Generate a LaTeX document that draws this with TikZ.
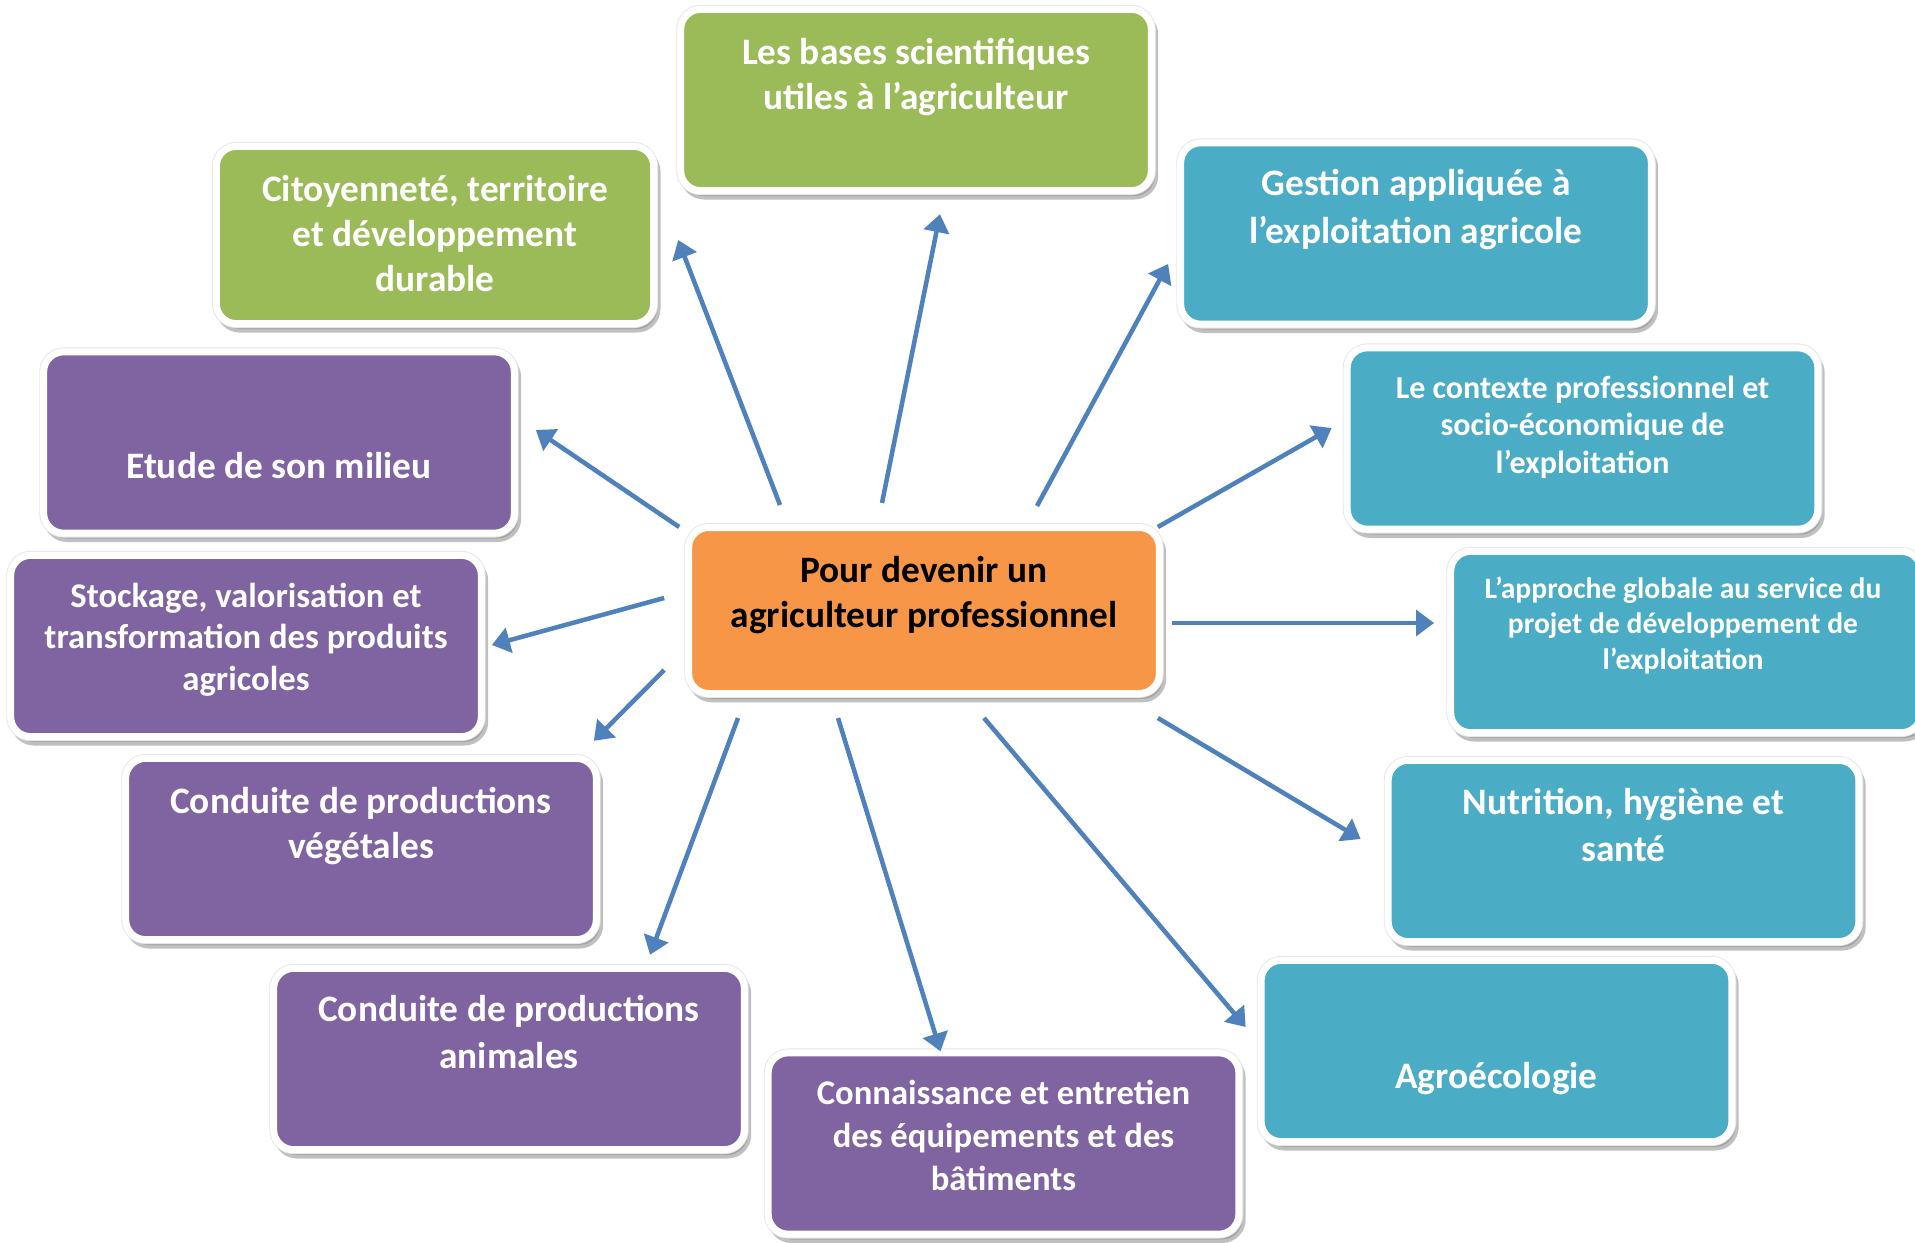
\documentclass[tikz,border=0pt]{standalone}
\usepackage{fontspec}
\setmainfont{Carlito}
\usepackage{tikz}
\usetikzlibrary{calc,shadows,arrows.meta}

\definecolor{cvert}{HTML}{9BBB59}
\definecolor{cbleu}{HTML}{4BACC6}
\definecolor{cviolet}{HTML}{8064A2}
\definecolor{corange}{HTML}{F79646}
\definecolor{cfleche}{HTML}{4F81BD}

\begin{document}
\begin{tikzpicture}[x=0.75pt,y=0.75pt,yscale=-1,xscale=1,
  panel/.style={rectangle, rounded corners=15pt, draw=white, line width=5.25pt, fill=#1,
    minimum width=353pt, minimum height=136pt, inner sep=0pt,
    drop shadow={shadow xshift=2.5pt, shadow yshift=-4pt, fill=black!45, draw=black!45,
      line width=5.25pt, opacity=0.55},
    preaction={draw=black!10, line width=6.6pt}},
  ptext/.style={anchor=north, align=center, inner sep=0pt, text=white,
    font=\bfseries\fontsize{28}{34}\selectfont},
  link/.style={draw=cfleche, line width=3.4pt, -{Triangle[length=13.5pt,width=19pt]}}
]
%uncomment if require: \path (0,1242); %set diagram left start at 0, and has height of 1242
\useasboundingbox (0,0) rectangle (1915,1242);

%Shape: Rounded Rectangle [bases]
\node[panel=cvert] (bases) at (916,100) {};
%Shape: Rounded Rectangle [citoyen]
\node[panel=cvert, minimum width=328pt, minimum height=133pt] (citoyen) at (435,235) {};
%Shape: Rounded Rectangle [gestion]
\node[panel=cbleu] (gestion) at (1416,233.5) {};
%Shape: Rounded Rectangle [etude]
\node[panel=cviolet] (etude) at (279,442.5) {};
%Shape: Rounded Rectangle [contexte]
\node[panel=cbleu] (contexte) at (1582.5,438.5) {};
%Shape: Rounded Rectangle [centre]
\node[panel=corange, minimum height=124.5pt] (centre) at (924,610.5) {};
%Shape: Rounded Rectangle [stockage]
\node[panel=cviolet] (stockage) at (246,646) {};
%Shape: Rounded Rectangle [approche]
\node[panel=cbleu] (approche) at (1686,642) {};
%Shape: Rounded Rectangle [vegetales]
\node[panel=cviolet] (vegetales) at (361,849) {};
%Shape: Rounded Rectangle [nutrition]
\node[panel=cbleu] (nutrition) at (1623.5,851) {};
%Shape: Rounded Rectangle [animales]
\node[panel=cviolet] (animales) at (509,1059) {};
%Shape: Rounded Rectangle [materiel]
\node[panel=cviolet] (materiel) at (1003.5,1143.5) {};
%Shape: Rounded Rectangle [agro]
\node[panel=cbleu] (agro) at (1496.5,1051) {};

% Text Node
\node[ptext] (bases txt) at ($(bases.north)+(0,32)$) {Les bases scientifiques\\utiles à l’agriculteur};
% Text Node
\node[ptext] (citoyen txt) at ($(citoyen.north)+(0,32)$) {Citoyenneté, territoire\\et développement\\durable};
% Text Node
\node[ptext, font=\bfseries\fontsize{28}{35.7}\selectfont] (gestion txt) at ($(gestion.north)+(0,30)$) {Gestion appliquée à\\l’exploitation agricole};
% Text Node
\node[ptext] (etude txt) at ($(etude.north)+(0,104)$) {Etude de son milieu};
% Text Node
\node[ptext, font=\bfseries\fontsize{24}{28.4}\selectfont] (contexte txt) at ($(contexte.north)+(0,31)$) {Le contexte professionnel et\\socio-économique de\\l’exploitation};
% Text Node
\node[ptext, text=black] (centre txt) at ($(centre.north)+(0,32)$) {Pour devenir un\\agriculteur professionnel};
% Text Node
\node[ptext, font=\bfseries\fontsize{26}{31}\selectfont] (stockage txt) at ($(stockage.north)+(0,31)$) {Stockage, valorisation et\\transformation des produits\\agricoles};
% Text Node
\node[ptext, font=\bfseries\fontsize{22.2}{26.5}\selectfont] (approche txt) at ($(approche.north)+(-3,29)$) {L’approche globale au service du\\projet de développement de\\l’exploitation};
% Text Node
\node[ptext] (vegetales txt) at ($(vegetales.north)+(0,32)$) {Conduite de productions\\végétales};
% Text Node
\node[ptext, font=\bfseries\fontsize{28}{35.7}\selectfont] (nutrition txt) at ($(nutrition.north)+(0,31)$) {Nutrition, hygiène et\\santé};
% Text Node
\node[ptext, font=\bfseries\fontsize{28}{35.7}\selectfont] (animales txt) at ($(animales.north)+(0,30)$) {Conduite de productions\\animales};
% Text Node
\node[ptext, font=\bfseries\fontsize{26}{32}\selectfont] (materiel txt) at ($(materiel.north)+(0,31)$) {Connaissance et entretien\\des équipements et des\\bâtiments};
% Text Node
\node[ptext] (agro txt) at ($(agro.north)+(0,105)$) {Agroécologie};

%Straight Lines [haut]
\draw[link] ($(centre.north)+(-42,-21)$) -- ($(bases.south)+(24,20)$);
%Straight Lines [haut gauche]
\draw[link] ($(centre.north)+(-144,-19)$) -- ($(citoyen.east)+(21,5)$);
%Straight Lines [haut droite]
\draw[link] ($(centre.north)+(113,-18)$) -- ($(gestion.west)+(-9,30.5)$);
%Straight Lines
\draw[link] ($(centre.north west)+(-6,3)$) -- ($(etude.east)+(18,-12.5)$);
%Straight Lines
\draw[link] ($(centre.north east)+(-5,3)$) -- ($(contexte.west)+(-12,-10.5)$);
%Straight Lines
\draw[link] ($(centre.west)+(-21,-12.5)$) -- ($(stockage.east)+(7,-1)$);
%Straight Lines
\draw[link] ($(centre.east)+(9,12.5)$) -- ($(approche.west)+(-13,-19)$);
%Straight Lines
\draw[link] ($(centre.west)+(-21,59.5)$) -- ($(vegetales.north east)+(-6,-14)$);
%Straight Lines
\draw[link] ($(centre.south east)+(-5,21)$) -- ($(nutrition.west)+(-24,-12)$);
%Straight Lines [bas]
\draw[link] ($(centre.south)+(-186,21)$) -- ($(animales.north)+(141,-10)$);
%Straight Lines [bas]
\draw[link] ($(centre.south)+(-86,21)$) -- ($(materiel.north)+(-63,2)$);
%Straight Lines [bas droite]
\draw[link] ($(centre.south)+(60,21)$) -- ($(agro.west)+(-12,-24)$);

\end{tikzpicture}
\end{document}
